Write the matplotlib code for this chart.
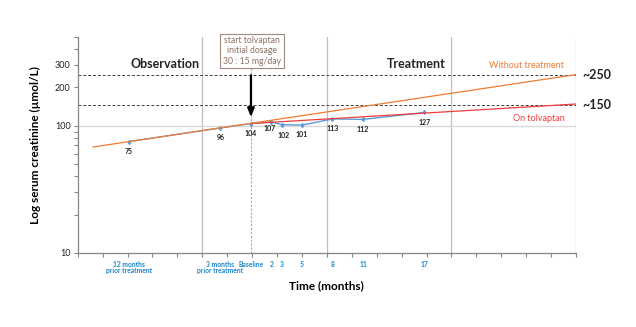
import numpy as np
import matplotlib.pyplot as plt
import matplotlib.transforms as mtransforms

plt.rcParams['font.family'] = ['Lato', 'DejaVu Sans']

# measured creatinine, months relative to start of tolvaptan
months = [-12, -3, 0, 2, 3, 5, 8, 11, 17]
creat = [75, 96, 104, 107, 102, 101, 113, 112, 127]
tickLabels = ['12 months\nprior treatment', '3 months\nprior treatment', 'Baseline',
              '2', '3', '5', '8', '11', '17']

# projections (start and end points)
noTreatX = [-15.5, 31.9]
noTreatY = [68, 252]
onTolvX = [0, 31.9]
onTolvY = [104, 148]

# reference levels at the right
refLevels = [250, 145]
refLabels = ['~250', '~150']

xMin, xMax = -17.0, 31.9
gray = '#BFBFBF'
blue = '#5B9BD5'
orange = '#ED7D31'
red = '#F03C3C'
tickBlue = '#1F87C8'
brown = '#8C6E62'

fig = plt.figure(figsize=(6.36, 3.27), dpi=100)
ax = fig.add_axes([0.1222, 0.2263, 0.7835, 0.6615])
ax.set_yscale('log')
ax.set_xlim(xMin, xMax)
ax.set_ylim(10, 500)

# grid: ticks every 1/20 of the axis, vertical lines every 5th tick
xTicks = np.linspace(xMin, xMax, 21)
for xg in xTicks[5::5]:
    ax.axvline(xg, color=gray, lw=0.9, zorder=1)
ax.axhline(100, color='#D9D9D9', lw=1.0, zorder=1)
ax.axvline(0, color='#A6A6A6', lw=0.8, ls=(0, (2, 1.5)), zorder=1)
for lvl, lab in zip(refLevels, refLabels):
    ax.axhline(lvl, color='#404040', lw=0.7, ls=(0, (3, 2)), zorder=2)
    ax.text(xMax + 0.6, lvl, lab, ha='left', va='center', fontsize=9, fontweight='bold',
            color='#222222', clip_on=False)

# lines
ax.plot(months, creat, color=blue, lw=1.0, marker='d', ms=2, zorder=3)
ax.plot(onTolvX, onTolvY, color=red, lw=0.9, zorder=4)
ax.plot(noTreatX, noTreatY, color=orange, lw=0.9, zorder=4)

# value labels, nudged where neighbours are close
for m, c in zip(months, creat):
    dx, dy = 0, -7
    if c == 107:
        dx, dy = -1.5, -4.5
    elif c == 102:
        dx, dy = 1.5, -8
    ax.annotate(str(c), (m, c), xytext=(dx, dy), textcoords='offset points',
                ha='center', va='center', fontsize=5, fontweight='bold', color='#222222')

# x labels below the axis, one text per row
trans = mtransforms.blended_transform_factory(ax.transData, ax.transAxes)
for m, lab in zip(months, tickLabels):
    for row, part in enumerate(lab.split('\n')):
        ax.text(m, -0.035 - row * 0.032, part, transform=trans, ha='center', va='top',
                fontsize=4.9, fontweight='bold', color=tickBlue)

ax.set_xticks(xTicks)
ax.set_xticklabels([])
ax.tick_params(axis='x', direction='out', length=3, color='#868686', width=0.8)
ax.set_yticks([10, 100, 200, 300])
ax.set_yticklabels(['10', '100', '200', '300'])
ax.tick_params(axis='y', which='both', direction='out', length=3, color='#868686',
               width=0.8, labelsize=6.5, labelcolor='#222222', pad=2)
ax.yaxis.set_minor_formatter(plt.NullFormatter())

for s in ['top', 'right']:
    ax.spines[s].set_visible(False)
for s in ['left', 'bottom']:
    ax.spines[s].set_color('#868686')
    ax.spines[s].set_linewidth(0.9)

ax.set_ylabel('Log serum creatinine (µmol/L)', fontsize=8.5, fontweight='bold', labelpad=10)
ax.set_xlabel('Time (months)', fontsize=8.5, fontweight='bold', labelpad=13)

# annotations
ax.text(-8.4, 305, 'Observation', ha='center', va='center', fontsize=9, fontweight='bold',
        color='#222222')
ax.text(16.2, 305, 'Treatment', ha='center', va='center', fontsize=9, fontweight='bold',
        color='#222222')
ax.text(27.0, 298, 'Without treatment', ha='center', va='center', fontsize=6.5, color=orange)
ax.text(28.3, 113, 'On tolvaptan', ha='center', va='center', fontsize=6.5, color=red)
ax.text(0.1, 386, 'start tolvaptan\ninitial dosage\n30 : 15 mg/day', ha='center', va='center',
        fontsize=6.2, color=brown, linespacing=1.2,
        bbox=dict(boxstyle='square,pad=0.3', fc='white', ec='#A08A80', lw=0.8), zorder=6)
ax.annotate('', xy=(0, 111), xytext=(0, 262),
            arrowprops=dict(arrowstyle='-|>,head_width=0.2,head_length=0.5', color='black', lw=1.6),
            zorder=6)

fig.savefig('out.png', dpi=100)
